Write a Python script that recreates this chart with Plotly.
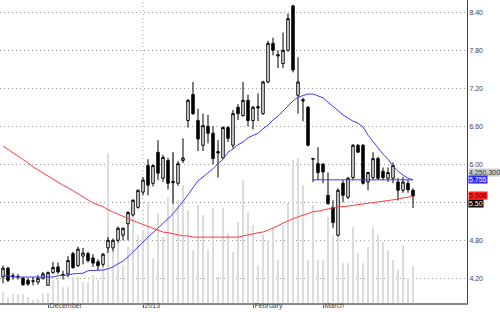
import plotly.graph_objects as go
import pandas as pd

holidays = ["2012-12-25", "2012-12-26", "2013-01-01", "2013-02-11", "2013-02-12",
            "2013-02-13", "2013-02-14", "2013-02-15", "2013-02-18"]
dates = [d.strftime("%Y-%m-%d") for d in pd.bdate_range("2012-11-20", "2013-03-27")
         if d.strftime("%Y-%m-%d") not in holidays]

opens = [4.22, 4.36, 4.23, 4.23, 4.20, 4.17, 4.15, 4.14, 4.20, 4.09,
         4.29, 4.38, 4.25, 4.27, 4.59, 4.40, 4.55, 4.59, 4.52, 4.46,
         4.42, 4.68, 4.68, 4.80, 4.88, 5.06, 5.20, 5.32, 5.56, 5.98,
         5.70, 6.19, 5.78, 6.06, 5.73, 5.70, 6.06, 6.69, 7.10, 6.69,
         6.30, 6.60, 6.49, 6.20, 6.10, 6.58, 6.30, 6.90, 6.77, 7.01,
         6.69, 6.91, 6.80, 7.30, 7.91, 7.71, 7.59, 7.80, 8.50, 7.09,
         7.02, 6.90, 6.08, 6.01, 6.00, 5.51, 5.32, 4.88, 5.70, 5.48,
         5.79, 6.30, 6.30, 5.72, 5.79, 6.09, 5.89, 5.78, 5.78, 5.72,
         5.59, 5.70, 5.59]
highs = [4.40, 4.38, 4.28, 4.27, 4.22, 4.20, 4.22, 4.25, 4.30, 4.31,
         4.46, 4.45, 4.32, 4.55, 4.62, 4.70, 4.68, 4.62, 4.58, 4.50,
         4.60, 4.85, 4.83, 5.02, 5.00, 5.26, 5.45, 5.60, 5.80, 6.08,
         6.00, 6.38, 6.15, 6.10, 6.19, 6.05, 6.41, 7.03, 7.30, 6.88,
         6.80, 6.78, 6.60, 6.38, 6.60, 6.60, 6.86, 6.95, 7.30, 7.10,
         6.92, 7.12, 7.32, 7.95, 8.00, 7.80, 8.08, 8.38, 8.52, 7.69,
         7.05, 6.92, 6.10, 6.27, 6.02, 5.87, 5.43, 5.62, 5.75, 5.80,
         6.32, 6.32, 6.32, 5.88, 6.19, 6.12, 5.95, 5.95, 6.03, 5.78,
         5.80, 5.75, 5.62]
lows = [4.12, 4.14, 4.18, 4.18, 4.08, 4.08, 4.09, 4.10, 4.18, 4.08,
        4.27, 4.27, 4.18, 4.22, 4.35, 4.38, 4.42, 4.45, 4.38, 4.33,
        4.38, 4.60, 4.62, 4.76, 4.80, 4.80, 5.18, 5.30, 5.51, 5.51,
        5.65, 5.75, 5.72, 5.60, 5.38, 5.66, 6.02, 6.58, 6.78, 6.21,
        6.21, 6.33, 6.00, 5.79, 6.08, 6.35, 6.25, 6.70, 6.75, 6.60,
        6.55, 6.68, 6.78, 7.28, 7.72, 7.52, 7.52, 7.78, 7.45, 6.80,
        6.68, 6.28, 5.72, 5.75, 5.70, 5.36, 4.99, 4.86, 5.40, 5.45,
        5.75, 6.19, 5.68, 5.59, 5.75, 5.75, 5.75, 5.72, 5.70, 5.43,
        5.55, 5.55, 5.31]
closes = [4.36, 4.17, 4.24, 4.22, 4.10, 4.11, 4.16, 4.20, 4.27, 4.29,
          4.37, 4.30, 4.26, 4.48, 4.37, 4.66, 4.60, 4.48, 4.44, 4.40,
          4.58, 4.80, 4.80, 4.99, 4.99, 5.24, 5.43, 5.59, 5.75, 5.67,
          5.98, 5.86, 6.11, 5.70, 5.71, 6.01, 6.10, 7.01, 6.80, 6.40,
          6.61, 6.49, 6.09, 6.18, 6.58, 6.41, 6.80, 6.80, 7.01, 6.69,
          6.90, 6.89, 7.30, 7.91, 7.80, 7.73, 7.80, 8.30, 7.49, 7.30,
          7.00, 6.30, 6.09, 5.87, 5.88, 5.38, 5.08, 5.59, 5.51, 5.78,
          6.30, 6.19, 5.70, 5.87, 6.09, 5.78, 5.79, 5.87, 5.98, 5.59,
          5.72, 5.60, 5.50]
volumes_m = [1.27, 0.69, 1.04, 1.04, 1.04, 0.69, 0.35, 0.46, 1.15, 1.15,
             2.65, 2.88, 1.84, 1.84, 2.99, 2.99, 2.42, 2.42, 3.22, 2.65,
             4.14, 17.25, 5.87, 7.02, 4.37, 6.44, 10.7, 7.82, 8.40, 11.5,
             5.18, 10.35, 7.59, 12.19, 17.4, 11.8, 13.6, 10.7, 6.1, 11.3,
             10.1, 6.1, 10.9, 3.0, 10.9, 8.0, 5.9, 9.3, 14.1, 10.4,
             9.0, 4.4, 7.8, 7.2, 8.6, 4.9, 9.0, 11.5, 16.4, 16.7,
             13.6, 4.9, 11.3, 4.9, 4.9, 9.9, 7.8, 10.4, 4.6, 4.6,
             8.7, 5.7, 4.6, 6.4, 8.7, 7.8, 7.0, 6.1, 4.9, 3.8,
             6.7, 2.9, 4.2503]
ma_fast = [4.24, 4.24, 4.22, 4.22, 4.22, 4.22, 4.21, 4.21, 4.21, 4.22,
           4.22, 4.24, 4.24, 4.25, 4.27, 4.28, 4.28, 4.32, 4.32, 4.33,
           4.33, 4.35, 4.38, 4.43, 4.47, 4.54, 4.62, 4.69, 4.77, 4.85,
           4.92, 4.99, 5.06, 5.14, 5.22, 5.31, 5.41, 5.52, 5.63, 5.74,
           5.80, 5.86, 5.93, 6.01, 6.08, 6.19, 6.24, 6.31, 6.35, 6.42,
           6.45, 6.49, 6.56, 6.62, 6.70, 6.76, 6.84, 6.92, 7.00, 7.06,
           7.09, 7.11, 7.11, 7.08, 7.05, 6.98, 6.91, 6.84, 6.78, 6.73,
           6.68, 6.65, 6.59, 6.46, 6.35, 6.26, 6.16, 6.08, 5.97, 5.89,
           5.83, 5.78, 5.755]
ma_slow = [6.29, 6.23, 6.18, 6.13, 6.08, 6.02, 5.96, 5.91, 5.86, 5.82,
           5.77, 5.72, 5.67, 5.63, 5.58, 5.53, 5.48, 5.44, 5.39, 5.36,
           5.33, 5.28, 5.25, 5.22, 5.18, 5.14, 5.11, 5.07, 5.04, 5.01,
           4.98, 4.95, 4.93, 4.92, 4.90, 4.88, 4.87, 4.87, 4.85, 4.85,
           4.85, 4.84, 4.84, 4.84, 4.84, 4.84, 4.85, 4.85, 4.87, 4.88,
           4.90, 4.92, 4.93, 4.96, 4.99, 5.03, 5.07, 5.11, 5.14, 5.17,
           5.20, 5.23, 5.25, 5.26, 5.28, 5.29, 5.31, 5.33, 5.33, 5.34,
           5.36, 5.37, 5.37, 5.39, 5.39, 5.41, 5.41, 5.42, 5.44, 5.45,
           5.47, 5.48, 5.506]
price_ticks = [4.20, 4.80, 5.40, 6.00, 6.60, 7.20, 7.80, 8.40]
hidden_tick = 5.40  # covered by the last-price box in the reference
month_labels = {"2012-12": "December", "2013-01": "2013", "2013-02": "February", "2013-03": "March"}
level_start = "2013-02-27"

first_of_month = {}
for d in dates:
    first_of_month.setdefault(d[:7], d)
tickvals = [first_of_month[k] for k in month_labels]
ticktext = [month_labels[k] for k in month_labels]
price_ticktext = ["" if abs(v - hidden_tick) < 1e-9 else f"{v:.2f}" for v in price_ticks]

FONT = "Liberation Sans"
fig = go.Figure()
fig.add_trace(go.Bar(x=dates, y=volumes_m, marker=dict(color="#dcdcdc", line=dict(width=0)),
                     width=0.4, yaxis="y", showlegend=False))
fig.add_trace(go.Scatter(x=dates, y=ma_slow, mode="lines", line=dict(color="#ff3b3b", width=1),
                         yaxis="y2", showlegend=False))
fig.add_trace(go.Scatter(x=dates, y=ma_fast, mode="lines", line=dict(color="#3a3aff", width=1),
                         yaxis="y2", showlegend=False))
fig.add_trace(go.Scatter(x=[level_start, dates[-1]], y=[ma_fast[-1], ma_fast[-1]], mode="lines",
                         line=dict(color="#3a3aff", width=1), yaxis="y2", showlegend=False))
fig.add_trace(go.Candlestick(x=dates, open=opens, high=highs, low=lows, close=closes, yaxis="y2",
                             increasing=dict(line=dict(color="#000000", width=1), fillcolor="#ffffff"),
                             decreasing=dict(line=dict(color="#000000", width=1), fillcolor="#000000"),
                             whiskerwidth=0, showlegend=False))

fig.add_shape(type="line", xref="x", yref="paper", x0=first_of_month["2013-01"], x1=first_of_month["2013-01"],
              y0=0, y1=1, line=dict(color="#9a9a9a", width=1, dash="1px,3px"), layer="below")

def label(val_text, y, bg, fg, yshift=0, yref="y2"):
    fig.add_annotation(xref="paper", x=1.0, xanchor="left", xshift=1, yref=yref, y=y, yshift=yshift,
                       text=val_text, showarrow=False, bgcolor=bg, font=dict(family=FONT, size=7, color=fg),
                       borderpad=0)

label(f"{volumes_m[-1]*1e6:,.0f}", 0.43, "#cfcfcf", "#333333", yref="paper")
label(f"{ma_fast[-1]:.3f}", ma_fast[-1], "#2b2bff", "#ffffff")
label(f"{ma_slow[-1]:.3f}", ma_slow[-1], "#ff2020", "#550000")
label(f"{closes[-1]:.2f}", closes[-1], "#000000", "#ffffff", yshift=-8)

fig.update_layout(
    width=500, height=312, margin=dict(l=0, r=33, t=0, b=9),
    paper_bgcolor="#ffffff", plot_bgcolor="#ffffff", bargap=0,
    font=dict(family=FONT, size=7, color="#444444"),
    xaxis=dict(type="category", range=[-0.6, 92.8], tickvals=tickvals, ticktext=ticktext,
               ticks="outside", ticklen=3, tickcolor="#555555", ticklabelposition="outside right",
               ticklabelstandoff=-5,
               tickfont=dict(size=7, color="#444444"), showgrid=False, zeroline=False,
               showline=True, linecolor="#8a8a8a", linewidth=2, rangeslider=dict(visible=False),
               automargin=False),
    yaxis=dict(range=[0, 34.8], visible=False, fixedrange=True),
    yaxis2=dict(overlaying="y", side="right", range=[3.81, 8.594], tickvals=price_ticks,
                ticktext=price_ticktext, showgrid=True, gridcolor="#a0a0a0", griddash="1px,3px",
                gridwidth=1, showline=True, linecolor="#444444", linewidth=1, ticks="", zeroline=False,
                tickfont=dict(size=7, color="#444444"), automargin=False),
)
fig.write_html("out.html")
